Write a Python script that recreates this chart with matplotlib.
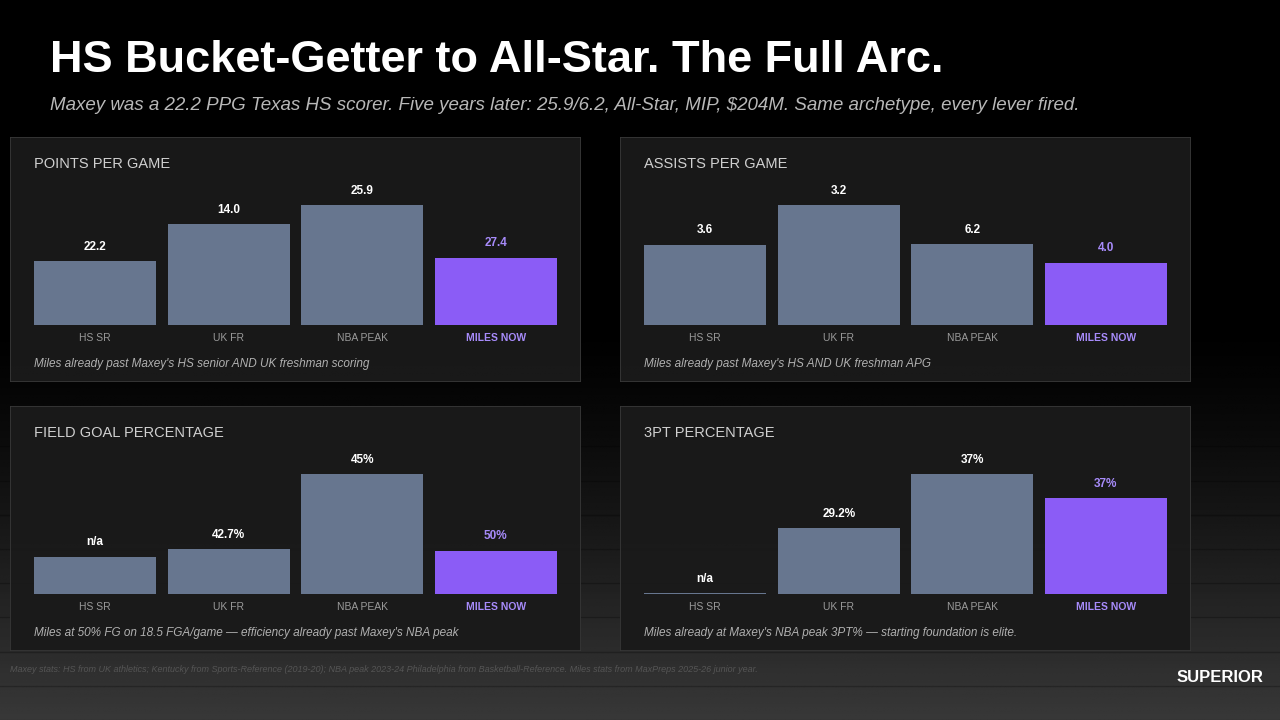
import numpy as np
import matplotlib.pyplot as plt
from matplotlib.patches import Rectangle

plt.rcParams['font.family'] = ['Liberation Sans', 'DejaVu Sans']

# data
categories = ["HS SR", "UK FR", "NBA PEAK", "MILES NOW"]
panel_titles = ["POINTS PER GAME", "ASSISTS PER GAME", "FIELD GOAL PERCENTAGE", "3PT PERCENTAGE"]
ppg_heights = [0.53, 0.84, 1.00, 0.56]
ppg_labels = ["22.2", "14.0", "25.9", "27.4"]
apg_heights = [0.67, 1.00, 0.675, 0.52]
apg_labels = ["3.6", "3.2", "6.2", "4.0"]
fg_heights = [0.31, 0.375, 1.00, 0.36]
fg_labels = ["n/a", "42.7%", "45%", "50%"]
tp_heights = [0.008, 0.55, 1.00, 0.80]
tp_labels = ["n/a", "29.2%", "37%", "37%"]
notes = [
    "Miles already past Maxey's HS senior AND UK freshman scoring",
    "Miles already past Maxey's HS AND UK freshman APG",
    "Miles at 50% FG on 18.5 FGA/game \u2014 efficiency already past Maxey's NBA peak",
    "Miles already at Maxey's NBA peak 3PT% \u2014 starting foundation is elite.",
]

W, H = 1280, 720
fig = plt.figure(figsize=(12.8, 7.2), dpi=100)
fig.patch.set_facecolor("#000000")


def px_axes(x0, y0, x1, y1, **kw):
    # pixel box (top-left origin) -> figure axes
    return fig.add_axes([x0 / W, 1 - y1 / H, (x1 - x0) / W, (y1 - y0) / H], **kw)


# background: dark top, lighter wooden floor lower
bg = px_axes(0, 0, W, H)
bg.axis("off")
rows = np.linspace(0, 1, 300)
shade = np.clip((rows - 0.45) / 0.55, 0, 1) ** 1.3 * 0.22
img = np.repeat(shade[:, None], 10, axis=1)
bg.imshow(img, cmap="gray", vmin=0, vmax=1, aspect="auto", extent=[0, 1, 1, 0])
for y in np.linspace(0.62, 1.0, 9):
    bg.plot([0, 1], [y, y], color="#000000", alpha=0.25, lw=1)
bg.set_xlim(0, 1)
bg.set_ylim(1, 0)

fig.text(50 / W, 1 - 60 / H, "HS Bucket-Getter to All-Star. The Full Arc.", color="white",
         fontsize=32.5, fontweight="bold", va="center")
fig.text(50 / W, 1 - 105 / H,
         "Maxey was a 22.2 PPG Texas HS scorer. Five years later: 25.9/6.2, All-Star, MIP, $204M. Same archetype, every lever fired.",
         color="#b8b8b8", fontsize=13.5, style="italic", va="center")

panels = [
    (10, 137, ppg_heights, ppg_labels),
    (620, 137, apg_heights, apg_labels),
    (10, 406, fg_heights, fg_labels),
    (620, 406, tp_heights, tp_labels),
]
bar_color = "#67768f"
miles_color = "#8b5cf6"
miles_text = "#a78bfa"

for i, (px, py, heights, labels) in enumerate(panels):
    box = px_axes(px, py, px + 571, py + 245)
    box.set_xlim(0, 1)
    box.set_ylim(0, 1)
    box.axis("off")
    box.add_patch(Rectangle((0, 0), 1, 1, transform=box.transAxes, facecolor="#1a1a1a",
                            edgecolor="#3a3a3a", lw=1.2, alpha=0.96))
    box.text(24 / 571, 1 - 27 / 245, panel_titles[i], color="#d0d0d0", fontsize=10.5,
             va="center")
    box.text(24 / 571, 1 - 227 / 245, notes[i], color="#b0b0b0", fontsize=8.5,
             style="italic", va="center")

    base = py + 188
    ax = px_axes(px + 24, base - 150, px + 547, base)
    ax.patch.set_alpha(0)
    x = np.arange(len(categories))
    colors = [bar_color] * 3 + [miles_color]
    ax.bar(x, heights, width=0.914, color=colors)
    ax.set_xlim(-0.457, 3.457)
    ax.set_ylim(0, 150 / 120)
    ax.axis("off")
    for j, (h, lab) in enumerate(zip(heights, labels)):
        last = j == 3
        ax.text(j, h + 0.07, lab, ha="center", va="bottom", fontsize=8.5,
                fontweight="bold", color=miles_text if last else "white")
        ax.text(j, -0.11, categories[j], ha="center", va="center", fontsize=7.5,
                fontweight="bold" if last else "normal",
                color=miles_text if last else "#9a9a9a", clip_on=False)

fig.text(10 / W, 1 - 669 / H,
         "Maxey stats: HS from UK athletics; Kentucky from Sports-Reference (2019-20); NBA peak 2023-24 Philadelphia from Basketball-Reference. Miles stats from MaxPreps 2025-26 junior year.",
         color="#555555", fontsize=6.5, style="italic", va="center")
fig.text(1220 / W, 1 - 677 / H, "SUPERIOR", color="white", fontsize=12, fontweight="bold",
         ha="center", va="center")

fig.savefig("out.png", dpi=100, facecolor=fig.get_facecolor())
